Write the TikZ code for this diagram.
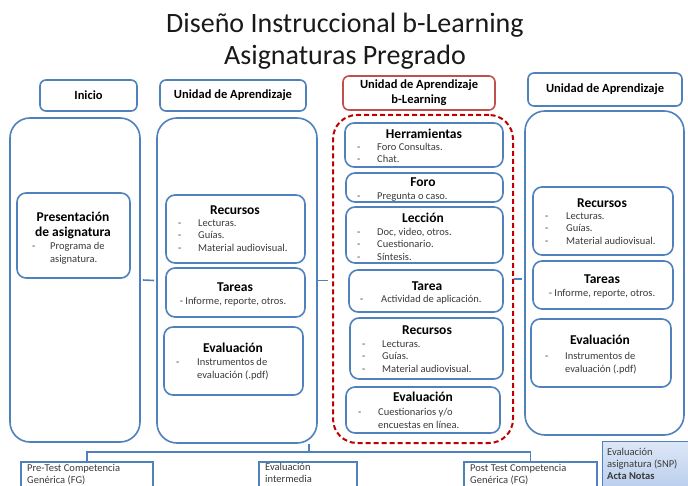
\documentclass[tikz,border=0pt]{standalone}
\usepackage{fontspec}
\setmainfont{Carlito}
\usetikzlibrary{fit}
\definecolor{ublue}{HTML}{4F81BD}
\definecolor{ured}{HTML}{C0504D}
\definecolor{dred}{HTML}{C00000}
\definecolor{txtg}{HTML}{3A3A3A}
\definecolor{snptop}{HTML}{DDE7F6}
\definecolor{snpbot}{HTML}{B6CBEC}
\newcommand{\dlist}[2]{\begin{tabular}[t]{@{}p{#1}@{}l@{}}#2\end{tabular}}
\begin{document}
\begin{tikzpicture}[x=1pt,y=-1pt,
  frame/.style={draw=ublue, line width=1.6pt, rounded corners=9pt, inner sep=0pt},
  colbox/.style={frame, rounded corners=20pt},
  hdrbox/.style={frame, rounded corners=6pt},
  redhdr/.style={hdrbox, draw=ured},
  redcol/.style={draw=dred, line width=2pt, dash pattern=on 5pt off 3pt, rounded corners=24pt, inner sep=0pt},
  conn/.style={draw=ublue, line width=1.6pt},
  hd/.style={font=\bfseries\fontsize{13.5}{15}\selectfont, inner sep=0pt, align=center},
  hh/.style={font=\bfseries\fontsize{12.5}{15}\selectfont, inner sep=0pt, align=center},
  lst/.style={font=\fontsize{10.5}{12.5}\selectfont, text=txtg, inner sep=0pt, anchor=base west},
  btm/.style={font=\fontsize{10.5}{12}\selectfont, text=txtg, inner sep=0pt, anchor=base west},
  ctr/.style={font=\fontsize{10.5}{12.5}\selectfont, text=txtg, inner sep=0pt},
  bbox/.style={draw=ublue, line width=1.3pt, inner sep=0pt},
  ttl/.style={font=\fontsize{28}{32}\selectfont, text=black!90, inner sep=0pt}
]
\clip (0,0) rectangle (688,486);
\fill[white] (0,0) rectangle (688,486);

% title
\node[ttl] (t1) at (345,25) {Diseño Instruccional b-Learning};
\node[ttl] (t2) at (345,57) {Asignaturas Pregrado};

% header boxes
\node[hdrbox, fit={(40,80) (137,111)}] (h1) {};
\node[hh] (h1t) at (h1.center) {Inicio};
\node[hdrbox, fit={(160,80) (306,111)}] (h2) {};
\node[hh] (h2t) at (h2.center) {Unidad de Aprendizaje};
\node[redhdr, fit={(343,76) (495,110)}] (h3) {};
\node[hh] (h3t) at (h3.center) {Unidad de Aprendizaje\\b-Learning};
\node[hdrbox, fit={(528,73) (682,106)}] (h4) {};
\node[hh] (h4t) at (h4.center) {Unidad de Aprendizaje};

% columns
\node[colbox, fit={(10,118) (140,442)}] (c1) {};
\node[colbox, fit={(157,118) (317,443)}] (c2) {};
\node[redcol, fit={(333,115) (513,443)}] (c3) {};
\node[colbox, fit={(525,111) (684,435)}] (c4) {};

\draw[conn] ([xshift=2pt]c1.east) -- ([xshift=-2pt]c2.west);
\draw[conn] (c2.east) -- ([xshift=-4pt]c3.west |- c2.east);
\draw[conn] (c3.east) -- ([xshift=-2pt]c4.west |- c3.east);

% column 1
\node[frame, fit={(17,193) (130,278)}] (pres) {};
\node[hd] (presh) at (73,225) {Presentación\\de asignatura};
\node[lst] (presl) at (32,250) {\dlist{18pt}{-&Programa de\\&asignatura.}};

% column 2
\node[frame, fit={(166,195) (305,263)}] (rec2) {};
\node[hd] (rec2h) at (235,210) {Recursos};
\node[lst] (rec2l) at (178,226.5) {\dlist{20pt}{-&Lecturas.\\-&Guías.\\-&Material audiovisual.}};
\node[frame, fit={(166,268) (305,317)}] (tar2) {};
\node[hd] (tar2h) at (235,287) {Tareas};
\node[ctr] (tar2l) at (233,302) {- Informe, reporte, otros.};
\node[frame, fit={(164,327) (303,395)}] (eva2) {};
\node[hd] (eva2h) at (233,348) {Evaluación};
\node[lst] (eva2l) at (176,365.5) {\dlist{21pt}{-&Instrumentos de\\&evaluación (.pdf)}};

% column 3
\node[frame, fit={(345,123) (503,167)}] (her) {};
\node[hd] (herh) at (424,134) {Herramientas};
\node[lst] (herl) at (357,150.5) {\dlist{20pt}{-&Foro Consultas.\\-&Chat.}};
\node[frame, fit={(346,173) (503,202)}] (foro) {};
\node[hd] (foroh) at (423,182) {Foro};
\node[lst] (forol) at (357,199.5) {\dlist{20pt}{-&Pregunta o caso.}};
\node[frame, fit={(346,207) (503,263)}] (lec) {};
\node[hd] (lech) at (423,218) {Lección};
\node[lst] (lecl) at (357,235.5) {\dlist{20pt}{-&Doc, video, otros.\\-&Cuestionario.\\-&Síntesis.}};
\node[frame, fit={(349,270) (503,312)}] (tar3) {};
\node[hd] (tar3h) at (427,286) {Tarea};
\node[lst] (tar3l) at (360,302.5) {\dlist{21pt}{-&Actividad de aplicación.}};
\node[frame, fit={(350,318) (503,379)}] (rec3) {};
\node[hd] (rec3h) at (427,330) {Recursos};
\node[lst] (rec3l) at (362,347.5) {\dlist{20pt}{-&Lecturas.\\-&Guías.\\-&Material audiovisual.}};
\node[frame, fit={(346,387) (500,433)}] (eva3) {};
\node[hd] (eva3h) at (423,397) {Evaluación};
\node[lst] (eva3l) at (358,415.5) {\dlist{20pt}{-&Cuestionarios y/o\\&encuestas en línea.}};

% column 4
\node[frame, fit={(533,187) (673,255)}] (rec4) {};
\node[hd] (rec4h) at (602,203) {Recursos};
\node[lst] (rec4l) at (545,219.5) {\dlist{21pt}{-&Lecturas.\\-&Guías.\\-&Material audiovisual.}};
\node[frame, fit={(533,261) (673,309)}] (tar4) {};
\node[hd] (tar4h) at (602,279) {Tareas};
\node[ctr] (tar4l) at (602,294) {- Informe, reporte, otros.};
\node[frame, fit={(531,319) (671,387)}] (eva4) {};
\node[hd] (eva4h) at (600,340) {Evaluación};
\node[lst] (eva4l) at (545,359.5) {\dlist{20pt}{-&Instrumentos de\\&evaluación (.pdf)}};

% bottom
\node[bbox, fit={(21,462) (153,500)}] (pre) {};
\node[bbox, fit={(259,462) (357,500)}] (mid) {};
\node[bbox, fit={(464,462) (597,500)}] (post) {};
\coordinate (j) at (309,452);
\draw[conn] (pre.north) |- (j);
\draw[conn] (post.north) |- (j);
\draw[conn] (j) -- (j |- c2.south);
\node[btm] (pret) at (27,471) {\begin{tabular}[t]{@{}l@{}}Pre-Test Competencia\\Genérica (FG)\end{tabular}};
\node[btm] (midt) at (265,470.5) {\begin{tabular}[t]{@{}l@{}}Evaluación\\intermedia\end{tabular}};
\node[btm] (postt) at (470,471) {\begin{tabular}[t]{@{}l@{}}Post Test Competencia\\Genérica (FG)\end{tabular}};

\node[draw=ublue, line width=1pt, top color=snptop, bottom color=snpbot, inner sep=0pt, fit={(602,441) (695,495)}] (snp) {};
\node[btm] (snpt) at (607,455) {\begin{tabular}[t]{@{}l@{}}Evaluación\\asignatura (SNP)\\\textbf{Acta Notas}\end{tabular}};
\end{tikzpicture}
\end{document}
